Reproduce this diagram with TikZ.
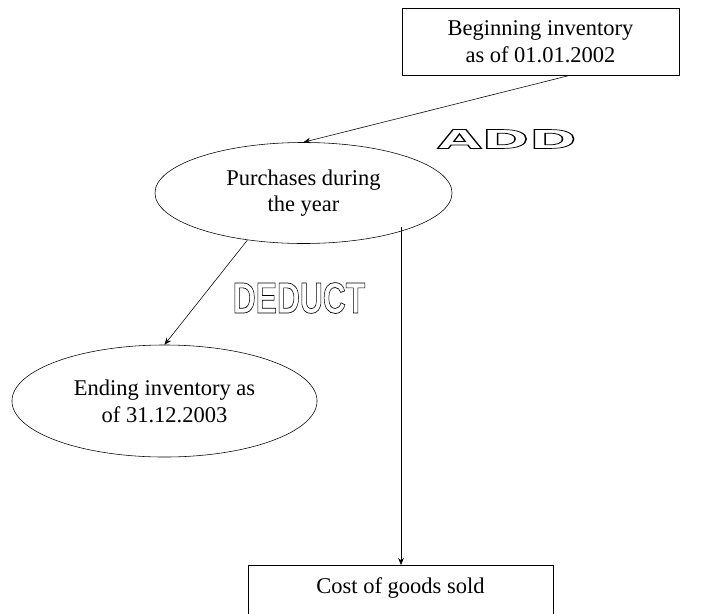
\documentclass[tikz,border=0pt]{standalone}
\usepackage{fontspec}
\setmainfont{Liberation Serif}
\newfontfamily\addfont{DejaVu Sans}
\newfontfamily\deductfont{Liberation Sans}
\usepackage{graphicx}
\newcommand\hollow[1]{\special{pdf:literal direct 1 Tr 0.5 w}#1\special{pdf:literal direct 0 Tr}}
\usetikzlibrary{arrows.meta,shapes.geometric}

\begin{document}
\begin{tikzpicture}[x=0.025cm, y=-0.025cm,
		>={Stealth[length=5pt,width=4pt]},
		every node/.append style={font=\fontsize{16pt}{19pt}\selectfont},
		box/.style={draw, rectangle, align=center, inner sep=0pt},
		oval/.style={draw, ellipse, align=center, inner sep=0pt}]
		\useasboundingbox (0, 0) rectangle (728, 613);

		\node[box, minimum width=6.925cm, minimum height=1.675cm] (begin) at (540.5, 41.5) {Beginning inventory\\as of 01.01.2002};
		\node[oval, minimum width=7.425cm, minimum height=2.525cm] (purch) at (303.5, 193) {Purchases during\\the year};
		\node[oval, minimum width=7.625cm, minimum height=2.8cm] (ending) at (164.5, 401) {Ending inventory as\\of 31.12.2003};
		\node[box, minimum width=7.625cm, text height=15.9pt, text depth=20pt, inner ysep=4pt, anchor=north] (cost) at (400.5, 565) {Cost of goods sold};

		\node (add) at (507, 139) {\addfont\bfseries\fontsize{18.5pt}{20pt}\selectfont\scalebox{2.2}[1]{\hollow{ADD}}};
		\node (deduct) at (299, 298) {\deductfont\bfseries\fontsize{31pt}{33pt}\selectfont\scalebox{0.73}[1]{\hollow{DEDUCT}}};

		\coordinate (drop) at (401, 227);

		\draw[->] ([xshift=0.74cm]begin.south) -- (purch.north);
		\draw[->] (purch.220) -- (ending.north);
		\draw[->] (drop) -- (drop |- cost.north);
	\end{tikzpicture}
\end{document}
